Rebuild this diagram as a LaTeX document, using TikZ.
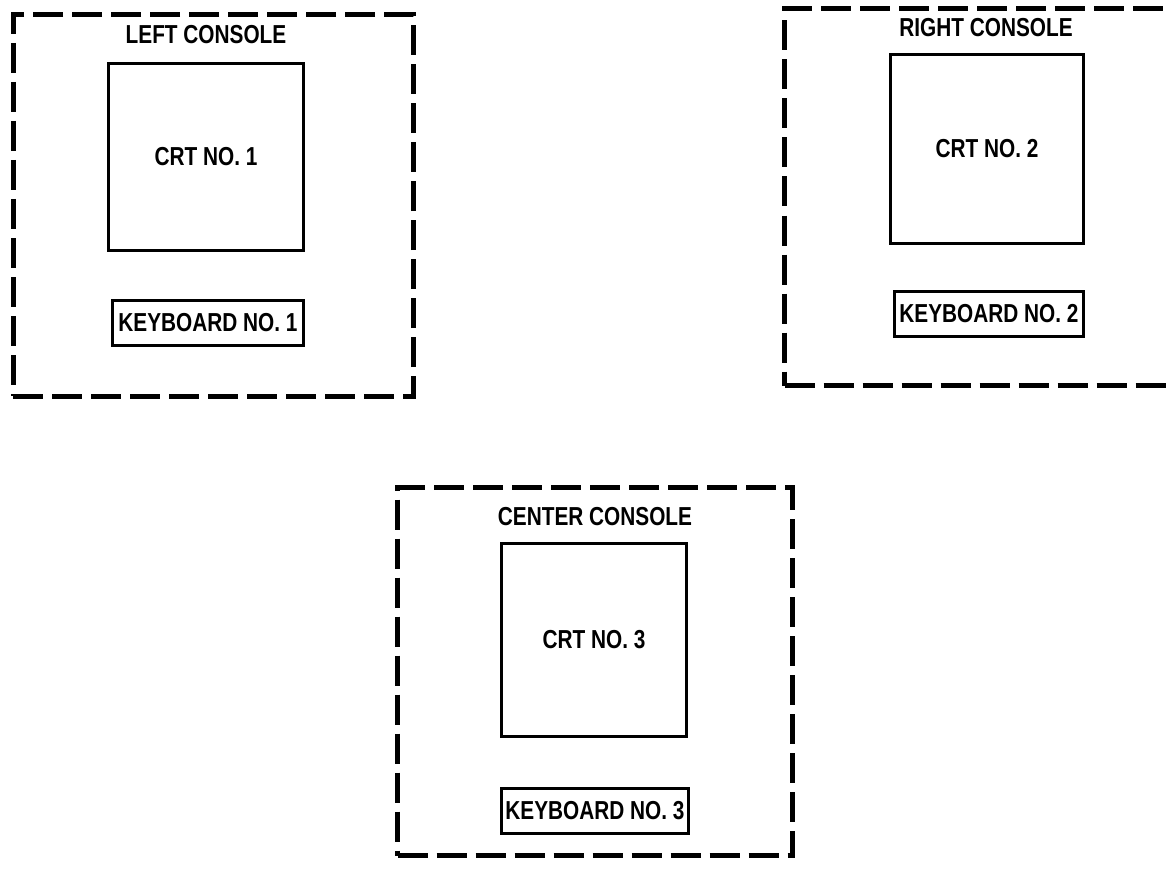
\documentclass[tikz,border=0pt]{standalone}
\usepackage{fontspec}
\setmainfont{Liberation Sans}[FakeStretch=0.8]
\begin{document}
\begin{tikzpicture}[x=1pt,y=-1pt,
  console/.style={draw=black, line width=5pt, dash pattern=on 30pt off 9pt, minimum width=#1},
  unitbox/.style={draw=black, line width=3pt, inner sep=0pt, font=\fontsize{26}{28}\selectfont\bfseries},
  title/.style={inner sep=0pt, font=\fontsize{26}{28}\selectfont\bfseries}]
\useasboundingbox (0,0) rectangle (1169,869);
\clip (0,0) rectangle (1169,869);
\fill[white] (0,0) rectangle (1169,869);
% consoles
\node[console=400pt, minimum height=381pt] (leftc) at (213,205.5) {};
\node[console=410pt, minimum height=377pt] (rightc) at (989.5,197) {};
\node[console=395pt, minimum height=368pt] (centerc) at (595,671.5) {};
% titles
\node[title] (lt) at (206,35) {LEFT CONSOLE};
\node[title] (rt) at (986,28) {RIGHT CONSOLE};
\node[title] (ct) at (595,517) {CENTER CONSOLE};
% CRTs
\node[unitbox, minimum width=195pt, minimum height=187pt] (crt1) at (206,157) {CRT NO. 1};
\node[unitbox, minimum width=193pt, minimum height=189pt] (crt2) at (987,149) {CRT NO. 2};
\node[unitbox, minimum width=185pt, minimum height=193pt] (crt3) at (594,640) {CRT NO. 3};
% keyboards
\node[unitbox, minimum width=191pt, minimum height=45pt] (kb1) at (208,323) {KEYBOARD NO. 1};
\node[unitbox, minimum width=189pt, minimum height=45pt] (kb2) at (989,314) {KEYBOARD NO. 2};
\node[unitbox, minimum width=187pt, minimum height=45pt] (kb3) at (595,811) {KEYBOARD NO. 3};
\end{tikzpicture}
\end{document}
